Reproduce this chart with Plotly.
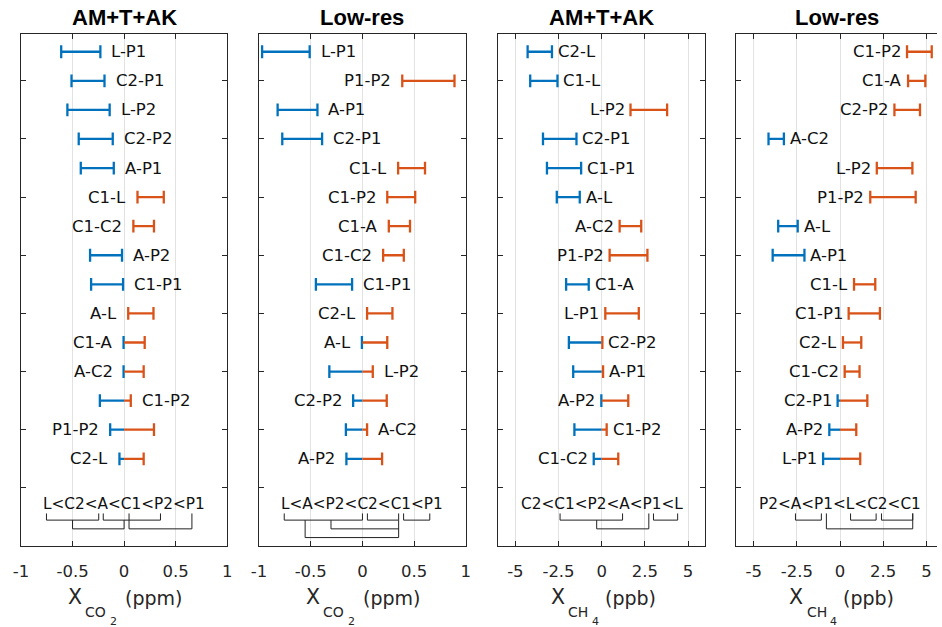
import plotly.graph_objects as go

# ---------------- data ----------------
titles = ["AM+T+AK", "Low-res", "AM+T+AK", "Low-res"]

co2_am_pairs = ["L-P1", "C2-P1", "L-P2", "C2-P2", "A-P1", "C1-L", "C1-C2", "A-P2",
                "C1-P1", "A-L", "C1-A", "A-C2", "C1-P2", "P1-P2", "C2-L"]
co2_am_lo = [-0.61, -0.51, -0.55, -0.44, -0.42, 0.13, 0.09, -0.33,
             -0.32, 0.04, -0.005, -0.005, -0.235, -0.135, -0.045]
co2_am_hi = [-0.23, -0.19, -0.14, -0.11, -0.10, 0.385, 0.29, -0.02,
             -0.01, 0.285, 0.20, 0.19, 0.065, 0.29, 0.19]
co2_am_order = "L<C2<A<C1<P2<P1"

co2_lr_pairs = ["L-P1", "P1-P2", "A-P1", "C2-P1", "C1-L", "C1-P2", "C1-A", "C1-C2",
                "C1-P1", "C2-L", "A-L", "L-P2", "C2-P2", "A-C2", "A-P2"]
co2_lr_lo = [-0.97, 0.385, -0.82, -0.775, 0.345, 0.24, 0.255, 0.20,
             -0.45, 0.045, -0.005, -0.32, -0.09, -0.16, -0.155]
co2_lr_hi = [-0.51, 0.89, -0.435, -0.39, 0.605, 0.51, 0.46, 0.40,
             -0.10, 0.29, 0.24, 0.10, 0.235, 0.045, 0.19]
co2_lr_order = "L<A<P2<C2<C1<P1"

ch4_am_pairs = ["C2-L", "C1-L", "L-P2", "C2-P1", "C1-P1", "A-L", "A-C2", "P1-P2",
                "C1-A", "L-P1", "C2-P2", "A-P1", "A-P2", "C1-P2", "C1-C2"]
ch4_am_lo = [-4.29, -4.14, 1.67, -3.40, -3.17, -2.60, 1.04, 0.46,
             -2.06, 0.21, -1.90, -1.65, -0.02, -1.58, -0.46]
ch4_am_hi = [-2.88, -2.56, 3.79, -1.46, -1.19, -1.27, 2.29, 2.65,
             -0.75, 2.15, 0.04, 0.08, 1.54, 0.29, 0.96]
ch4_am_order = "C2<C1<P2<A<P1<L"

ch4_lr_pairs = ["C1-P2", "C1-A", "C2-P2", "A-C2", "L-P2", "P1-P2", "A-L", "A-P1",
                "C1-L", "C1-P1", "C2-L", "C1-C2", "C2-P1", "A-P2", "L-P1"]
ch4_lr_lo = [3.88, 3.94, 3.15, -4.14, 2.13, 1.75, -3.58, -3.90,
             0.81, 0.50, 0.17, 0.27, -0.14, -0.62, -0.98]
ch4_lr_hi = [5.31, 4.94, 4.63, -3.25, 4.19, 4.38, -2.45, -2.06,
             2.04, 2.31, 1.23, 1.13, 1.58, 0.94, 1.17]
ch4_lr_order = "P2<A<P1<L<C2<C1"

# grouping brackets under the ranking text
# spans: (x0, x1, level) ; drops: (x, from_level, to_level) ; joins: (x0, x1, level)
co2_am_spans = [(-0.753, -0.246, 1), (-0.202, 0.353, 1), (0.048, 0.658, 2)]
co2_am_drops = [(-0.50, 1, 2), (0.0, 1, 2)]
co2_am_joins = [(-0.50, 0.0, 2)]

co2_lr_spans = [(-0.756, 0.0, 1), (0.048, 0.35, 1), (0.398, 0.651, 1)]
co2_lr_drops = [(-0.554, 1, 3), (-0.304, 1, 2), (0.35, 1, 3)]
co2_lr_joins = [(-0.304, 0.35, 2), (-0.554, 0.35, 3)]

ch4_am_spans = [(-2.41, 1.21, 1), (3.0, 4.40, 1)]
ch4_am_drops = [(-0.29, 1, 2), (2.73, 0, 2)]
ch4_am_joins = [(-0.29, 2.73, 2)]

ch4_lr_spans = [(-2.58, -1.08, 1), (-0.79, 4.21, 2), (0.61, 2.09, 1), (2.40, 4.21, 1)]
ch4_lr_drops = []
ch4_lr_joins = []

x_ticks_co2 = [-1, -0.5, 0, 0.5, 1]
x_ticktext_co2 = ["-1", "-0.5", "0", "0.5", "1"]
x_ticks_ch4 = [-5, -2.5, 0, 2.5, 5]
x_ticktext_ch4 = ["-5", "-2.5", "0", "2.5", "5"]

panels = [
    dict(pairs=co2_am_pairs, lo=co2_am_lo, hi=co2_am_hi, order=co2_am_order,
         spans=co2_am_spans, drops=co2_am_drops, joins=co2_am_joins, gas="co2"),
    dict(pairs=co2_lr_pairs, lo=co2_lr_lo, hi=co2_lr_hi, order=co2_lr_order,
         spans=co2_lr_spans, drops=co2_lr_drops, joins=co2_lr_joins, gas="co2"),
    dict(pairs=ch4_am_pairs, lo=ch4_am_lo, hi=ch4_am_hi, order=ch4_am_order,
         spans=ch4_am_spans, drops=ch4_am_drops, joins=ch4_am_joins, gas="ch4"),
    dict(pairs=ch4_lr_pairs, lo=ch4_lr_lo, hi=ch4_lr_hi, order=ch4_lr_order,
         spans=ch4_lr_spans, drops=ch4_lr_drops, joins=ch4_lr_joins, gas="ch4"),
]

# ---------------- layout geometry ----------------
W, H = 942, 627
ML, MR, MT, MB = 21, 0, 34, 81
PW, PH = W - ML - MR, H - MT - MB
panel_px = [(20.7, 228.3), (260.3, 468.3), (500.7, 709.0), (740.3, 942.0)]
x_ranges = [[-1, 1], [-1, 1], [-6, 6], [-6, 5.615]]

BLUE = "#0072BD"
ORANGE = "#D95319"
AXC = "#262626"
FONT = "DejaVu Sans"
CAP = 0.22
LEVEL_Y = {0: 16.88, 1: 17.11, 2: 17.41, 3: 17.71}
label_gap = {"co2": 9, "ch4": 4}

def px_to_paper_x(px):
    return (px - ML) / PW

def py_to_paper_y(py):
    return (H - MB - py) / PH

fig = go.Figure()
annotations = []

for k, p in enumerate(panels):
    n = k + 1
    xa = "x" if n == 1 else f"x{n}"
    ya = "y" if n == 1 else f"y{n}"
    bx, by, ox, oy = [], [], [], []
    for i, (lab, lo, hi) in enumerate(zip(p["pairs"], p["lo"], p["hi"])):
        y = i + 1
        if lo < 0:
            bx += [lo, min(hi, 0), None, lo, lo, None]
            by += [y, y, None, y - CAP, y + CAP, None]
            if hi <= 0:
                bx += [hi, hi, None]
                by += [y - CAP, y + CAP, None]
        if hi > 0:
            ox += [max(lo, 0), hi, None, hi, hi, None]
            oy += [y, y, None, y - CAP, y + CAP, None]
            if lo >= 0:
                ox += [lo, lo, None]
                oy += [y - CAP, y + CAP, None]
        # label on the side of the shorter half
        if (lo + hi) / 2 < 0:
            annotations.append(dict(x=hi, y=y, xref=xa, yref=ya, text=lab, showarrow=False,
                                    xanchor="left", yanchor="middle", xshift=label_gap[p["gas"]],
                                    font=dict(family=FONT, size=16.5, color="#111111")))
        else:
            annotations.append(dict(x=lo, y=y, xref=xa, yref=ya, text=lab, showarrow=False,
                                    xanchor="right", yanchor="middle", xshift=-label_gap[p["gas"]],
                                    font=dict(family=FONT, size=16.5, color="#111111")))
    fig.add_trace(go.Scatter(x=bx, y=by, mode="lines", line=dict(color=BLUE, width=2.3),
                             xaxis=xa, yaxis=ya, hoverinfo="skip", showlegend=False))
    fig.add_trace(go.Scatter(x=ox, y=oy, mode="lines", line=dict(color=ORANGE, width=2.3),
                             xaxis=xa, yaxis=ya, hoverinfo="skip", showlegend=False))

    # ranking brackets
    kx, ky = [], []
    for x0, x1, lv in p["spans"]:
        kx += [x0, x0, x1, x1, None]
        ky += [LEVEL_Y[0], LEVEL_Y[lv], LEVEL_Y[lv], LEVEL_Y[0], None]
    for x, l0, l1 in p["drops"]:
        kx += [x, x, None]
        ky += [LEVEL_Y[l0], LEVEL_Y[l1], None]
    for x0, x1, lv in p["joins"]:
        kx += [x0, x1, None]
        ky += [LEVEL_Y[lv], LEVEL_Y[lv], None]
    fig.add_trace(go.Scatter(x=kx, y=ky, mode="lines", line=dict(color="#222222", width=1),
                             xaxis=xa, yaxis=ya, hoverinfo="skip", showlegend=False))
    annotations.append(dict(x=0, y=16.56, xref=xa, yref=ya, text=p["order"], showarrow=False,
                            xanchor="center", yanchor="middle",
                            font=dict(family=FONT, size=15.3, color="#111111")))

    # panel title
    annotations.append(dict(x=0.5, y=py_to_paper_y(17), xref=f"{xa} domain", yref="paper",
                            text=f"<b>{titles[k]}</b>", showarrow=False,
                            xanchor="center", yanchor="middle",
                            font=dict(family="Liberation Sans", size=22, color="#000000")))

    # x-axis label with nested subscripts
    if p["gas"] == "co2":
        pieces = [("X", 20.5, -58.0, 597), ("CO", 14, -41.0, 612), ("2", 11, -16.5, 621),
                  ("(ppm)", 19, -1.5, 598)]
    else:
        pieces = [("X", 20.5, -52.8, 597), ("CH", 14, -35.5, 612), ("4", 11, -11.7, 621),
                  ("(ppb)", 19, 1.3, 598)]
    for txt, sz, dx, py in pieces:
        annotations.append(dict(x=0, y=py_to_paper_y(py), xref=xa, yref="paper", text=txt,
                                showarrow=False, xanchor="left", yanchor="middle", xshift=dx,
                                font=dict(family=FONT, size=sz, color=AXC)))

    x0p, x1p = panel_px[k]
    is_co2 = p["gas"] == "co2"
    fig.update_layout(**{
        ("xaxis" if n == 1 else f"xaxis{n}"): dict(
            domain=[max(0, px_to_paper_x(x0p)), min(1, px_to_paper_x(x1p))],
            range=x_ranges[k], anchor=ya,
            tickvals=x_ticks_co2 if is_co2 else x_ticks_ch4,
            ticktext=x_ticktext_co2 if is_co2 else x_ticktext_ch4,
            showgrid=True, gridcolor="#e2e2e2", gridwidth=1, zeroline=False,
            showline=True, linecolor=AXC, linewidth=1, mirror="ticks",
            ticks="inside", ticklen=5, tickcolor=AXC, ticklabelstandoff=10,
            tickfont=dict(family=FONT, size=16.5, color=AXC)),
        ("yaxis" if n == 1 else f"yaxis{n}"): dict(
            domain=[0, 1], range=[18, 0.39], anchor=xa,
            tickvals=[2, 4, 6, 8, 10, 12, 14, 16], showticklabels=False,
            showgrid=False, zeroline=False,
            showline=True, linecolor=AXC, linewidth=1,
            mirror="ticks" if n < 4 else False,
            ticks="inside", ticklen=5, tickcolor=AXC),
    })

fig.update_layout(width=W, height=H, margin=dict(l=ML, r=MR, t=MT, b=MB),
                  paper_bgcolor="white", plot_bgcolor="white",
                  annotations=annotations, showlegend=False)

fig.write_html("out.html")
